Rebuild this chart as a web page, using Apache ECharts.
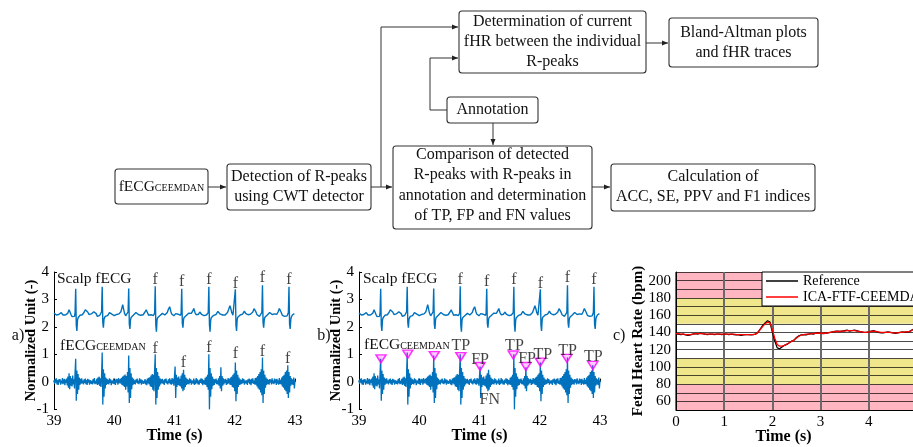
<!DOCTYPE html>
<html><head><meta charset="utf-8">
<script src="https://cdn.jsdelivr.net/npm/echarts@6/dist/echarts.min.js"></script>
<style>html,body{margin:0;padding:0;background:#fff}#c{width:913px;height:447px}</style>
</head><body><div id="c"></div>
<script>
// ---------- DATA ----------
const ecgStart = 39, ecgStep = 0.01;
const scalpECG = [
2.50,2.46,2.44,2.47,2.43,2.40,2.44,2.47,2.45,2.42,
2.44,2.48,2.52,2.49,2.46,2.43,2.45,2.48,2.46,2.43,
2.41,2.44,2.46,2.50,2.55,2.62,2.65,2.56,2.46,2.40,
2.37,2.40,2.43,2.41,2.38,2.52,3.39,2.05,1.85,2.25,
2.33,2.36,2.38,2.42,2.40,2.43,2.46,2.44,2.47,2.50,
2.53,2.58,2.62,2.66,2.67,2.62,2.54,2.48,2.45,2.43,
2.41,2.44,2.47,2.45,2.48,2.52,2.55,2.58,2.60,2.56,
2.48,2.42,2.38,2.40,2.37,2.39,2.42,2.40,2.39,2.55,
3.46,2.15,1.97,2.28,2.35,2.38,2.36,2.40,2.43,2.41,
2.44,2.48,2.52,2.56,2.53,2.49,2.46,2.44,2.46,2.43,
2.41,2.44,2.46,2.43,2.45,2.48,2.46,2.44,2.47,2.48,
2.50,2.55,2.62,2.72,2.81,2.74,2.60,2.50,2.44,2.40,
2.38,2.36,2.40,2.55,3.40,2.10,1.92,2.25,2.34,2.38,
2.36,2.40,2.43,2.41,2.45,2.48,2.52,2.55,2.52,2.48,
2.45,2.43,2.46,2.44,2.42,2.45,2.48,2.46,2.44,2.47,
2.50,2.54,2.58,2.62,2.60,2.52,2.46,2.42,2.40,2.43,
2.41,2.44,2.42,2.40,2.38,2.41,2.39,2.50,3.48,2.05,
1.82,2.25,2.33,2.36,2.39,2.37,2.41,2.44,2.42,2.46,
2.49,2.52,2.48,2.45,2.43,2.46,2.44,2.48,2.52,2.58,
2.65,2.70,2.73,2.66,2.56,2.48,2.44,2.41,2.43,2.40,
2.42,2.45,2.48,2.52,2.55,2.50,2.46,2.43,2.41,2.39,
2.42,2.50,3.39,2.12,1.97,2.26,2.34,2.37,2.40,2.38,
2.42,2.45,2.43,2.47,2.50,2.47,2.44,2.46,2.49,2.52,
2.57,2.63,2.67,2.60,2.52,2.47,2.44,2.42,2.45,2.43,
2.46,2.50,2.54,2.55,2.50,2.45,2.42,2.40,2.43,2.41,
2.44,2.42,2.40,2.43,2.41,2.39,2.52,3.46,2.08,1.82,
2.24,2.33,2.37,2.35,2.39,2.42,2.40,2.44,2.47,2.45,
2.48,2.52,2.56,2.58,2.54,2.49,2.46,2.44,2.42,2.45,
2.43,2.41,2.44,2.46,2.43,2.47,2.50,2.48,2.52,2.58,
2.64,2.70,2.77,2.72,2.62,2.52,2.46,2.42,2.40,2.43,
2.40,3.37,2.06,1.85,2.26,2.35,2.38,2.36,2.40,2.43,
2.41,2.45,2.48,2.46,2.50,2.53,2.57,2.54,2.49,2.45,
2.43,2.46,2.44,2.42,2.45,2.48,2.46,2.43,2.47,2.50,
2.54,2.60,2.66,2.70,2.64,2.55,2.48,2.44,2.41,2.43,
2.40,2.38,2.41,2.39,2.43,2.53,3.52,2.15,1.97,2.27,
2.35,2.38,2.36,2.40,2.43,2.41,2.45,2.48,2.52,2.55,
2.52,2.48,2.45,2.43,2.46,2.44,2.47,2.45,2.42,2.44,
2.46,2.50,2.55,2.61,2.67,2.70,2.63,2.53,2.46,2.42,
2.40,2.43,2.41,2.38,2.40,2.39,2.42,2.40,2.41,2.52,
3.46,2.10,1.92,2.27,2.36,2.40,2.44,2.42,2.46,2.48,
2.47];
const ceemdanECG = [
0.05,-0.08,0.10,-0.04,0.12,-0.10,0.06,-0.12,0.08,-0.03,
0.09,-0.11,0.04,-0.06,0.13,-0.09,0.02,0.10,-0.13,0.07,
-0.05,0.11,-0.14,0.18,-0.22,0.30,-0.28,0.20,-0.15,0.12,
-0.18,0.22,-0.10,0.08,-0.25,0.35,0.83,-0.70,0.40,-0.45,
0.28,-0.30,0.15,-0.12,0.10,-0.08,0.12,-0.06,0.04,-0.10,
0.08,-0.05,0.11,-0.09,0.06,-0.12,0.10,-0.04,0.07,-0.11,
0.05,0.12,-0.08,0.04,-0.10,0.09,-0.06,0.13,-0.09,0.03,
-0.07,0.10,-0.12,0.15,-0.10,0.18,-0.16,0.12,-0.20,0.25,
1.06,-0.84,0.45,-0.55,0.30,-0.25,0.15,-0.12,0.10,-0.08,
0.06,-0.10,0.12,-0.05,0.08,-0.13,0.04,0.09,-0.07,0.11,
-0.09,0.05,-0.12,0.10,-0.04,0.08,-0.11,0.13,-0.06,0.02,
0.10,-0.08,0.14,-0.12,0.18,-0.15,0.22,-0.20,0.26,-0.30,
0.20,-0.18,0.35,-0.40,0.95,-0.78,0.50,-0.60,0.30,-0.28,
0.15,-0.12,0.10,-0.08,0.05,-0.10,0.07,-0.04,0.11,-0.07,
0.04,-0.09,0.12,-0.05,0.08,-0.11,0.06,0.10,-0.08,0.03,
-0.06,0.09,-0.10,0.05,-0.13,0.11,-0.07,0.14,-0.10,0.16,
-0.18,0.22,-0.20,0.28,-0.30,0.25,-0.35,0.40,1.00,-0.84,
0.50,-0.60,0.35,-0.30,0.20,-0.18,0.12,-0.10,0.08,-0.06,
0.10,-0.08,0.05,-0.12,0.09,-0.04,0.11,-0.07,0.03,-0.10,
0.08,-0.05,0.12,-0.09,0.06,-0.11,0.13,-0.08,0.10,-0.15,
0.20,0.55,-0.60,0.25,-0.20,0.15,-0.12,0.18,-0.15,0.10,
-0.18,0.22,-0.25,0.30,-0.35,0.43,-0.30,0.25,-0.20,0.15,
-0.12,0.10,-0.08,0.06,-0.10,0.12,-0.05,0.08,-0.11,0.04,
0.09,-0.07,0.11,-0.12,0.05,-0.09,0.13,-0.06,0.08,-0.10,
0.04,-0.11,0.07,-0.05,0.12,-0.08,0.10,-0.13,0.06,0.09,
-0.10,0.14,-0.12,0.18,-0.20,0.25,-0.30,1.00,-1.02,0.50,
-0.55,0.30,-0.28,0.18,-0.15,0.10,-0.12,0.08,-0.06,0.11,
-0.09,0.05,-0.10,0.12,-0.15,0.20,-0.25,0.52,-0.35,0.20,
-0.15,0.12,-0.10,0.08,-0.05,0.10,-0.12,0.06,-0.09,0.13,
-0.07,0.10,-0.11,0.15,-0.12,0.18,-0.20,0.25,-0.22,0.30,
-0.35,0.70,-0.72,0.40,-0.45,0.25,-0.20,0.15,-0.12,0.08,
-0.10,0.06,-0.08,0.12,-0.05,0.09,-0.11,0.04,0.10,-0.07,
0.05,-0.12,0.08,-0.04,0.11,-0.09,0.07,-0.13,0.10,-0.06,
0.12,-0.08,0.04,-0.10,0.13,-0.11,0.15,-0.18,0.20,-0.25,
0.28,-0.30,0.35,-0.40,0.45,-0.50,0.88,-0.78,0.40,-0.45,
0.25,-0.22,0.15,-0.12,0.10,-0.08,0.06,-0.11,0.09,-0.04,
0.07,-0.10,0.12,-0.06,0.04,-0.09,0.11,-0.05,0.08,-0.12,
0.10,-0.07,0.05,-0.11,0.13,-0.08,0.06,-0.10,0.15,-0.18,
0.20,-0.22,0.25,-0.30,0.35,-0.35,0.40,-0.45,0.60,-0.60,
0.35,-0.40,0.20,-0.15,0.12,-0.10,0.08,-0.12,0.15,-0.25,
0.05];
const fMarksScalp = [[40.68,3.73],[41.12,3.64],[41.57,3.70],[42.01,3.58],[42.46,3.78],[42.90,3.72]];
const fMarksCeemdan = [[40.68,1.18],[41.15,0.67],[41.57,1.22],[42.01,1.00],[42.46,1.09],[42.88,0.83]];
const detectedPeaks = [[39.365,0.83],[39.81,1.00],[40.25,0.95],[40.69,0.91],[41.01,0.55],[41.56,0.97],[41.77,0.55],[42.01,0.71],[42.45,0.85],[42.88,0.59]];
const peakClassText = ['TP','FP','TP','FP','TP','TP','TP','FN'];
const peakClassPos = [[40.69,1.30],[41.01,0.81],[41.58,1.30],[41.79,0.85],[42.05,0.97],[42.46,1.13],[42.89,0.91],[41.17,-0.65]];

const fhrStep = 0.05;
const fhrReference = [
138,138,137.5,138,137,136.5,137,138,138.5,138,
139,138.5,138,137.5,138,138,137.5,138,138,137.5,
138,138,137.5,138,137.5,137,137,136.5,137,137.5,
137.5,137,137.5,138,140,144,148,151,153.5,152,
140,130,122,121,123,125,126,128,130,131,
134,136,137,137.5,137,138,138.5,138,139,139.5,
139,138.5,139,139.5,140,140.5,141,141.5,141,141.5,
142,142.5,141.5,142,142.5,142,141,140.5,140,140,
140.5,141.5,142,141,140,139.5,139.5,140,140.5,140,
139.5,139,139.5,140,140.5,140,140.5,141,143,144,
145];
const fhrEstimated = [
138.5,138.5,138,138,137.5,137.5,137.5,138,138.5,138.5,
138.5,138.5,138,138,138,138,138,138,138,138,
138,138,138,138,138,137.5,137.5,137.5,137.5,137.5,
137.5,137.5,137.5,138,140,143.5,147,150,152,151,
143,133,126,124,124,125,126.5,128,129.5,131,
133.5,135.5,137,137.5,138,138,138.5,138.5,139,139,
139,139,139,139.5,140,140.5,141,141,141,141.5,
141.5,142,142,142,142,141.5,141,140.5,140,140,
140.5,141,141.5,141,140.5,140,140,140,140,140,
139.5,139.5,139.5,140,140,140.5,140.5,141,142.5,144,
145];
const fhrSeriesNames = ['Reference','ICA-FTF-CEEMDAN'];
// FHR zone colours per 10-bpm band from 50 to 210 bpm
const PINK = '#FFB6C1', YEL = '#F0E68C', WHITE = '#FFFFFF';
const fhrBandColors = [PINK,PINK,PINK,YEL,YEL,YEL,WHITE,WHITE,WHITE,WHITE,YEL,YEL,YEL,PINK,PINK,PINK];

// ---------- BUILD ----------
const SERIF = '"Liberation Serif", "Times New Roman", serif';
const ecgPairs = arr => arr.map((v,i) => [+(ecgStart + i*ecgStep).toFixed(2), v]);
const fhrPairs = arr => arr.map((v,i) => [+(i*fhrStep).toFixed(2), v]);
const BLUE = '#0072BD';

function ecgAxes(g) {
  return {
    x: {type:'value', gridIndex:g, min:39, max:43, interval:1,
      axisLine:{lineStyle:{color:'#000',width:1}}, axisTick:{inside:true,length:3,lineStyle:{color:'#000'}},
      splitLine:{show:false}, axisLabel:{color:'#000',fontFamily:SERIF,fontSize:15,margin:5},
      name:'Time (s)', nameLocation:'middle', nameGap:19, nameMoveOverlap:false,
      nameTextStyle:{fontFamily:SERIF,fontSize:16,fontWeight:'bold',color:'#000'}},
    y: {type:'value', gridIndex:g, min:-1, max:4, interval:1,
      axisLine:{show:true,lineStyle:{color:'#000',width:1}}, axisTick:{show:true,inside:true,length:3,lineStyle:{color:'#000'}},
      splitLine:{show:false}, axisLabel:{color:'#000',fontFamily:SERIF,fontSize:15,margin:5},
      name:'Normalized Unit (-)', nameLocation:'middle', nameGap:15, nameMoveOverlap:false,
      nameTextStyle:{fontFamily:SERIF,fontSize:14.5,fontWeight:'bold',color:'#000'}}
  };
}
const ax0 = ecgAxes(0), ax1 = ecgAxes(1);

function lineSeries(xi, data, color, w, z) {
  return {type:'line', xAxisIndex:xi, yAxisIndex:xi, data, showSymbol:false, symbol:'none',
    lineStyle:{color, width:w}, z: z||3, animation:false, silent:true};
}
function textSeries(xi, data, texts, size) {
  return {type:'scatter', xAxisIndex:xi, yAxisIndex:xi, data, symbolSize:0, z:6, silent:true,
    label:{show:true, position:'inside', formatter: p => texts ? texts[p.dataIndex] : 'f',
      fontFamily:SERIF, fontSize:size||16, color:'#111'}};
}

const series = [
  lineSeries(0, ecgPairs(scalpECG), BLUE, 1.4),
  lineSeries(0, ecgPairs(ceemdanECG), BLUE, 1.3),
  textSeries(0, fMarksScalp),
  textSeries(0, fMarksCeemdan),
  lineSeries(1, ecgPairs(scalpECG), BLUE, 1.4),
  lineSeries(1, ecgPairs(ceemdanECG), BLUE, 1.3),
  textSeries(1, fMarksScalp),
  {type:'scatter', xAxisIndex:1, yAxisIndex:1, data:detectedPeaks, symbol:'triangle', symbolRotate:180,
    symbolSize:[10,8], z:5, silent:true,
    itemStyle:{color:'rgba(255,0,255,0.25)', borderColor:'#FF00FF', borderWidth:1.5}},
  textSeries(1, peakClassPos, peakClassText, 16),
  {type:'line', name:fhrSeriesNames[0], xAxisIndex:2, yAxisIndex:2, data:fhrPairs(fhrReference),
    showSymbol:false, symbol:'none', itemStyle:{color:'#000'}, lineStyle:{color:'#000', width:1.3}, z:4, animation:false},
  {type:'line', name:fhrSeriesNames[1], xAxisIndex:2, yAxisIndex:2, data:fhrPairs(fhrEstimated),
    showSymbol:false, symbol:'none', itemStyle:{color:'#FF0000'}, lineStyle:{color:'#FF0000', width:1.3}, z:5, animation:false}
];

// ---------- FLOWCHART (graphic) ----------
const TXT = {font:'16px ' + SERIF, fill:'#111'};
const graphics = [];
function box(x,y,w,h){ graphics.push({type:'rect', shape:{x,y,width:w,height:h,r:3}, style:{fill:'#fff',stroke:'#333',lineWidth:1.1}, z:10}); }
function txt(s,x,y,opts){ graphics.push({type:'text', z:12, style:Object.assign({text:s,x,y,textAlign:'center',textVerticalAlign:'middle',align:'center',verticalAlign:'middle'},TXT,opts||{})}); }
function arrow(pts){
  graphics.push({type:'polyline', shape:{points:pts}, style:{stroke:'#333',lineWidth:1,fill:null}, z:9});
  const [x1,y1]=pts[pts.length-2], [x2,y2]=pts[pts.length-1];
  const L=Math.hypot(x2-x1,y2-y1), ux=(x2-x1)/L, uy=(y2-y1)/L, hl=6, hw=2.5;
  const bx=x2-ux*hl, by=y2-uy*hl;
  graphics.push({type:'polygon', shape:{points:[[x2,y2],[bx-uy*hw,by+ux*hw],[bx+uy*hw,by-ux*hw]]}, style:{fill:'#222'}, z:11});
}
box(115,169,93,35); box(227,164,144,46); box(459,11,187,62); box(447,97,91,26);
box(393,146,199,83); box(669,18,149,49); box(611,164,204,47);
arrow([[208,187],[226,187]]);
arrow([[371,187],[392,187]]);
arrow([[381,187],[381,27],[458,27]]);
arrow([[447,110],[430,110],[430,58],[458,58]]);
arrow([[493,123],[493,145]]);
arrow([[646,43],[668,43]]);
arrow([[592,187],[610,187]]);
const richF = {a:{fontFamily:SERIF,fontSize:15.5,fill:'#111',color:'#111'}, b:{fontFamily:SERIF,fontSize:10,fill:'#111',color:'#111',padding:[3,0,0,0]}};
txt('{a|fECG}{b|CEEMDAN}',161.5,187,{rich:richF});
txt('Detection of R-peaks',299,177); txt('using CWT detector',299,197);
txt('Determination of current',552.5,22); txt('fHR between the individual',552.5,42); txt('R-peaks',552.5,62);
txt('Annotation',492.5,110);
txt('Comparison of detected',492.5,155); txt('R-peaks with R-peaks in',492.5,175);
txt('annotation and determination',492.5,196); txt('of TP, FP and FN values',492.5,216);
txt('Bland-Altman plots',743.5,33); txt('and fHR traces',743.5,53);
txt('Calculation of',713,177); txt('ACC, SE, PPV and F1 indices',713,197);
// panel annotations
txt('Scalp fECG',57,279,{textAlign:'left',align:'left',font:'15.5px '+SERIF});
txt('{a|fECG}{b|CEEMDAN}',60,346,{textAlign:'left',align:'left',rich:richF});
txt('Scalp fECG',363,279,{textAlign:'left',align:'left',font:'15.5px '+SERIF});
txt('{a|fECG}{b|CEEMDAN}',364,345,{textAlign:'left',align:'left',rich:richF});
txt('a)',18,336,{font:'16px '+SERIF});
txt('b)',324,336,{font:'16px '+SERIF});
txt('c)',613,336,{font:'16px '+SERIF,textAlign:'left',align:'left'});

const option = {
  animation:false,
  backgroundColor:'#fff',
  grid:[
    {left:54, top:272, width:241, height:137, outerBoundsMode:'none', containLabel:false},
    {left:359, top:272, width:241, height:137, outerBoundsMode:'none', containLabel:false},
    {left:676, top:272, width:241, height:138, outerBoundsMode:'none', containLabel:false}
  ],
  xAxis:[ax0.x, ax1.x,
    {type:'value', gridIndex:2, min:0, max:5, interval:1, z:2,
      axisLine:{lineStyle:{color:'#000'}}, axisTick:{show:false},
      splitLine:{show:true, lineStyle:{color:'#6a6a6a', width:2}},
      axisLabel:{color:'#000',fontFamily:SERIF,fontSize:15,margin:5},
      name:'Time (s)', nameLocation:'middle', nameGap:19, nameMoveOverlap:false,
      nameTextStyle:{fontFamily:SERIF,fontSize:16,fontWeight:'bold',color:'#000',padding:[0,26,0,0]}}],
  yAxis:[ax0.y, ax1.y,
    {type:'value', gridIndex:2, min:50, max:210, interval:10, z:2,
      axisLine:{show:true,lineStyle:{color:'#000'}}, axisTick:{show:false},
      splitLine:{show:true, lineStyle:{color:'rgba(0,0,0,0.7)', width:1}},
      splitArea:{show:true, areaStyle:{color:fhrBandColors}},
      axisLabel:{color:'#000',fontFamily:SERIF,fontSize:15,margin:5,
        formatter: v => (v % 20 === 0 && v >= 60 && v <= 200) ? String(v) : ''},
      name:'Fetal Heart Rate (bpm)', nameLocation:'middle', nameGap:30, nameMoveOverlap:false,
      nameTextStyle:{fontFamily:SERIF,fontSize:15,fontWeight:'bold',color:'#000'}}],
  legend:{data:fhrSeriesNames, left:762, top:272, orient:'vertical', icon:'rect', itemWidth:32, itemHeight:1.5,
    itemGap:2, padding:[2,4,2,4], backgroundColor:'#fff', borderColor:'#000', borderWidth:1, borderRadius:0,
    textStyle:{fontFamily:SERIF,fontSize:14,color:'#000'}, z:8},
  series,
  graphic:{elements:graphics}
};
const chart = echarts.init(document.getElementById('c'), null, {renderer:'canvas'});
chart.setOption(option);
</script></body></html>
